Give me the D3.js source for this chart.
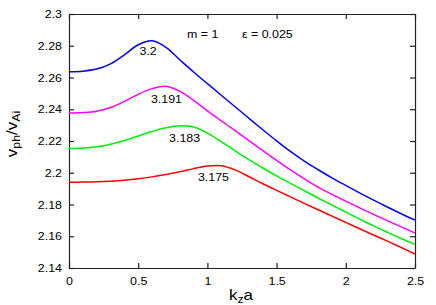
<!DOCTYPE html>
<html>
<head>
<meta charset="utf-8">
<script src="https://cdn.jsdelivr.net/npm/d3@7"></script>
<style>
  body { margin: 0; background: #fff; }
  svg { display: block; font-family: "Liberation Sans", Arial, sans-serif; }
</style>
</head>
<body>
<svg id="chart" width="436" height="305"></svg>
<script>
// k_z a sample points shared by all curves (0 .. 2.5 by 0.1)
const kza = [0, 0.1, 0.2, 0.3, 0.4, 0.5, 0.6, 0.7, 0.8, 0.9, 1.0, 1.1, 1.2, 1.3, 1.4, 1.5, 1.6, 1.7, 1.8, 1.9, 2.0, 2.1, 2.2, 2.3, 2.4, 2.5];

const vBlue =    [2.2637, 2.2640, 2.2653, 2.2686, 2.2743, 2.2806, 2.2831, 2.2790, 2.2712, 2.2635, 2.2561, 2.2488, 2.2416, 2.2343, 2.2271, 2.2201, 2.2134, 2.2073, 2.2019, 2.1968, 2.1920, 2.1873, 2.1828, 2.1784, 2.1742, 2.1702];
const vMagenta = [2.2376, 2.2379, 2.2388, 2.2411, 2.2450, 2.2494, 2.2530, 2.2545, 2.2514, 2.2456, 2.2390, 2.2327, 2.2265, 2.2202, 2.2140, 2.2078, 2.2018, 2.1962, 2.1910, 2.1864, 2.1821, 2.1779, 2.1738, 2.1698, 2.1659, 2.1621];
const vGreen =   [2.2153, 2.2156, 2.2164, 2.2180, 2.2203, 2.2232, 2.2260, 2.2283, 2.2296, 2.2288, 2.2250, 2.2196, 2.2138, 2.2082, 2.2030, 2.1980, 2.1933, 2.1887, 2.1841, 2.1796, 2.1752, 2.1708, 2.1665, 2.1625, 2.1586, 2.1549];
const vRed =     [2.1940, 2.1941, 2.1943, 2.1947, 2.1953, 2.1962, 2.1974, 2.1989, 2.2006, 2.2026, 2.2042, 2.2044, 2.2018, 2.1975, 2.1931, 2.1889, 2.1848, 2.1807, 2.1767, 2.1727, 2.1687, 2.1647, 2.1608, 2.1569, 2.1529, 2.1488];

const seriesNames = ["3.2", "3.191", "3.183", "3.175"];
const seriesColors = ["#0000ff", "#ff00ff", "#00ee00", "#ff0000"];
const seriesValues = [vBlue, vMagenta, vGreen, vRed];
// where each curve's label sits (centre, baseline), in data units
const labelK = [0.571, 0.704, 0.835, 1.044];
const labelV = [2.2742, 2.2439, 2.2194, 2.1948];

const xTicks = [0, 0.5, 1, 1.5, 2, 2.5];
const yTicks = [2.14, 2.16, 2.18, 2.2, 2.22, 2.24, 2.26, 2.28, 2.3];

const margin = { left: 69, right: 21, top: 14, bottom: 37 };
const width = 436, height = 305;
const stretch = "scale(1.13,1)"; // the original lettering is a bit wide

const svg = d3.select("#chart");

const x = d3.scaleLinear().domain([0, 2.5]).range([margin.left, width - margin.right]);
const y = d3.scaleLinear().domain([2.14, 2.3]).range([height - margin.bottom, margin.top]);

const fmt = d => String(+d.toFixed(2));

// axes: ticks point inward, top/right mirror without labels
svg.append("g")
  .attr("transform", `translate(0,${y.range()[0]})`)
  .call(d3.axisBottom(x).tickValues(xTicks).tickFormat(fmt).tickSizeInner(-5).tickSizeOuter(0).tickPadding(9));
svg.append("g")
  .attr("transform", `translate(0,${y.range()[1]})`)
  .call(d3.axisTop(x).tickValues(xTicks).tickFormat("").tickSizeInner(-5).tickSizeOuter(0));
svg.append("g")
  .attr("transform", `translate(${x.range()[0]},0)`)
  .call(d3.axisLeft(y).tickValues(yTicks).tickFormat(fmt).tickSizeInner(-5).tickSizeOuter(0).tickPadding(6.2));
svg.append("g")
  .attr("transform", `translate(${x.range()[1]},0)`)
  .call(d3.axisRight(y).tickValues(yTicks).tickFormat("").tickSizeInner(-5).tickSizeOuter(0));

svg.selectAll(".domain, .tick line").attr("stroke", "#222").attr("stroke-width", 1.2);
svg.selectAll(".tick text")
  .attr("font-size", 11)
  .attr("fill", "#000")
  .attr("font-family", '"Liberation Sans", Arial, sans-serif')
  .attr("transform", stretch);

const line = d3.line()
  .x((d, i) => x(kza[i]))
  .y(d => y(d))
  .curve(d3.curveCatmullRom.alpha(0.5));

svg.append("g")
  .selectAll("path")
  .data(seriesValues)
  .join("path")
  .attr("d", d => line(d))
  .attr("fill", "none")
  .attr("stroke", (d, i) => seriesColors[i])
  .attr("stroke-width", 1.5);

svg.append("g")
  .selectAll("text")
  .data(seriesNames)
  .join("text")
  .attr("transform", (d, i) => `translate(${x(labelK[i])},${y(labelV[i])}) ${stretch}`)
  .attr("text-anchor", "middle")
  .attr("font-size", 11)
  .text(d => d);

svg.append("text")
  .attr("transform", `translate(187,38) ${stretch}`)
  .attr("font-size", 11)
  .text("m = 1");
svg.append("text")
  .attr("transform", `translate(242,38) ${stretch}`)
  .attr("font-size", 11)
  .text("\u03b5 = 0.025");

// axis titles
const xt = svg.append("text")
  .attr("transform", `translate(241,300) ${stretch}`)
  .attr("text-anchor", "middle")
  .attr("font-size", 15);
xt.append("tspan").text("k");
xt.append("tspan").attr("font-size", 11).attr("dy", 2.5).text("z");
xt.append("tspan").attr("dy", -2.5).text("a");

const yt = svg.append("text")
  .attr("transform", `translate(17,134) rotate(-90) ${stretch}`)
  .attr("text-anchor", "middle")
  .attr("font-size", 15);
yt.append("tspan").text("v");
yt.append("tspan").attr("font-size", 11).attr("dy", 3).text("ph");
yt.append("tspan").attr("dy", -3).text("/v");
yt.append("tspan").attr("font-size", 11).attr("dy", 3).text("Ai");
</script>
</body>
</html>
